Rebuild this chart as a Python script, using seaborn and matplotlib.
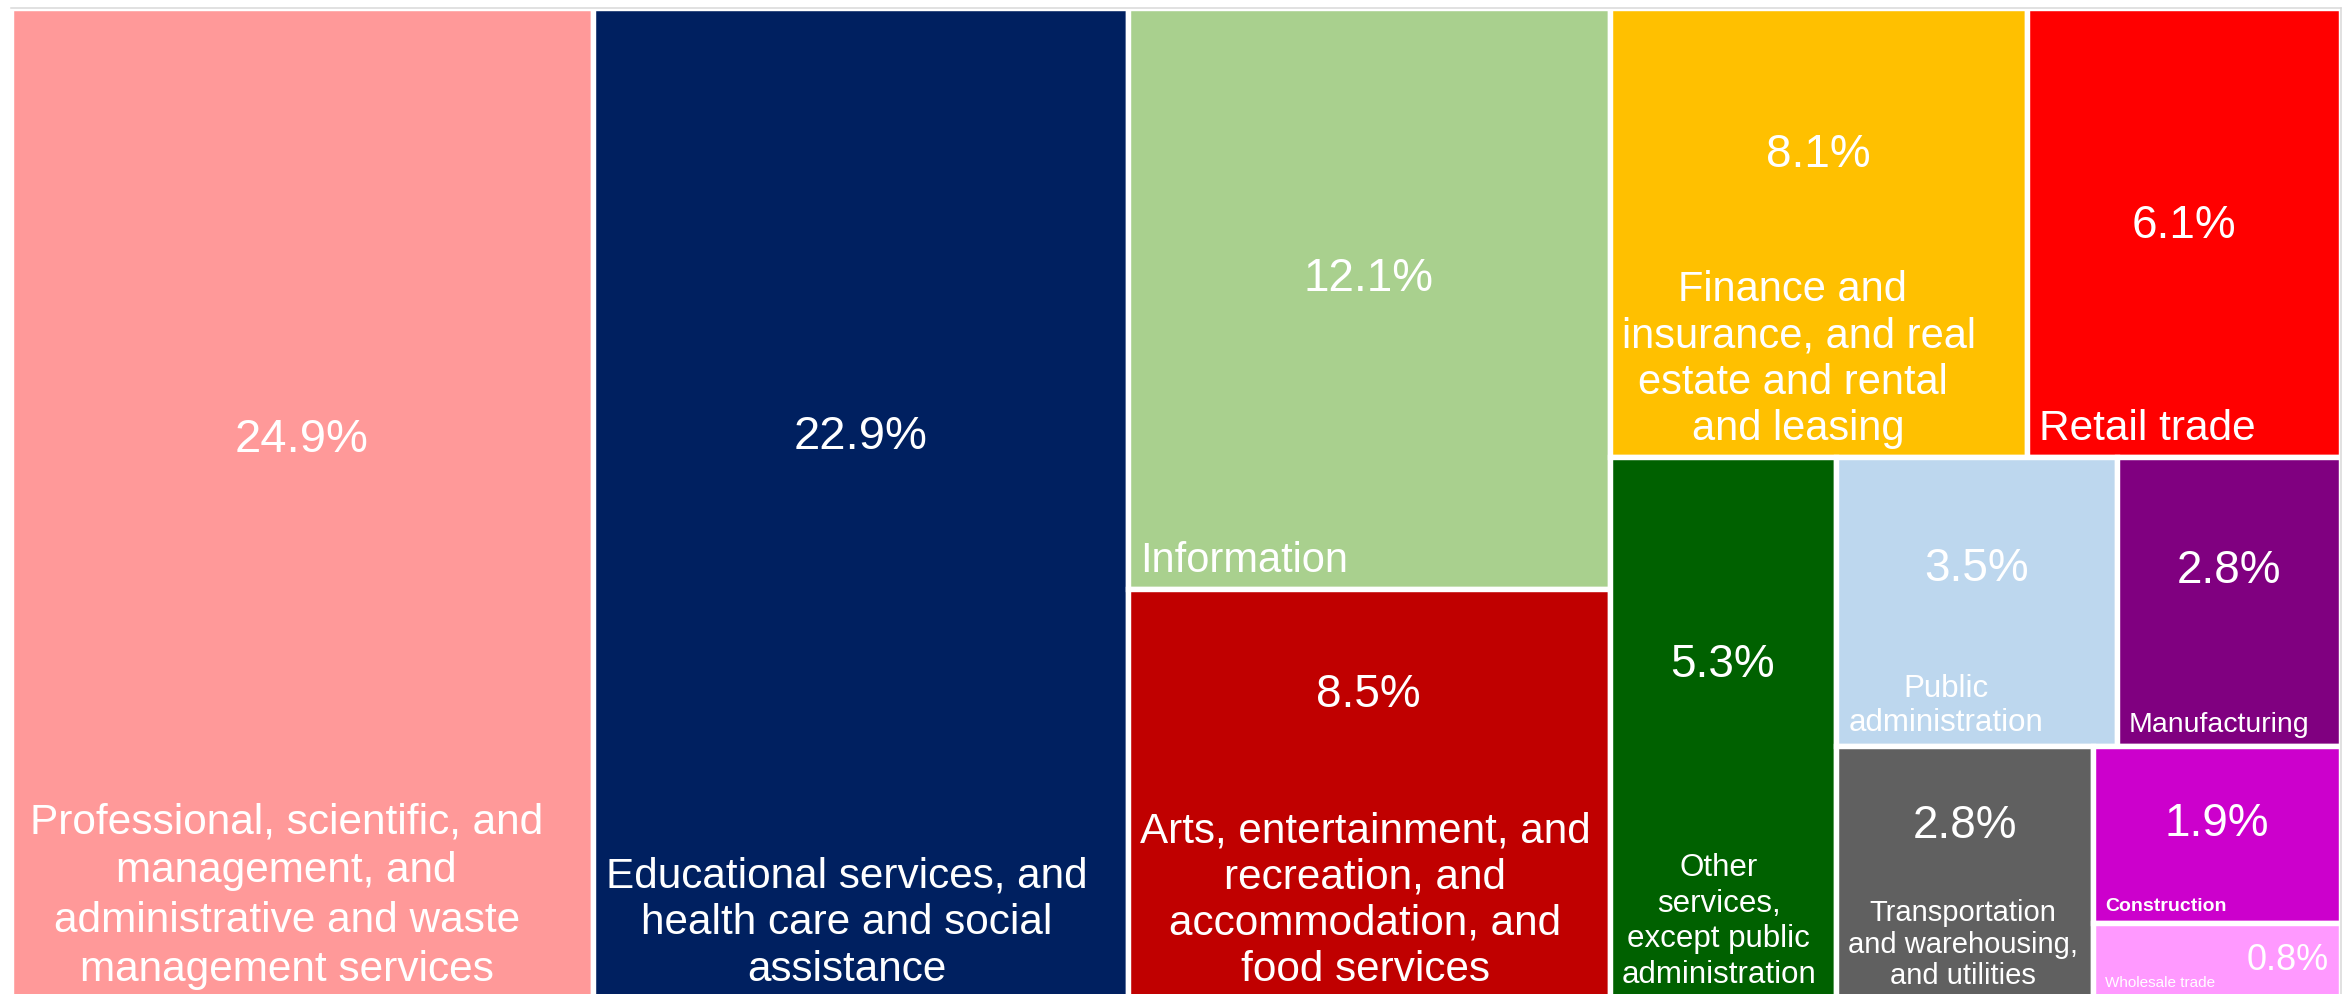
import matplotlib
matplotlib.use("Agg")
import matplotlib.pyplot as plt
import seaborn as sns

# ---------------- data ----------------
categories = [
    "Professional, scientific, and management, and administrative and waste management services",
    "Educational services, and health care and social assistance",
    "Information",
    "Arts, entertainment, and recreation, and accommodation, and food services",
    "Finance and insurance, and real estate and rental and leasing",
    "Retail trade",
    "Other services, except public administration",
    "Public administration",
    "Manufacturing",
    "Transportation and warehousing, and utilities",
    "Construction",
    "Wholesale trade",
]
shares = [24.9, 22.9, 12.1, 8.5, 8.1, 6.1, 5.3, 3.5, 2.8, 2.8, 1.9, 0.8]
wrapped_labels = [
    "Professional, scientific, and\nmanagement, and\nadministrative and waste\nmanagement services",
    "Educational services, and\nhealth care and social\nassistance",
    "Information",
    "Arts, entertainment, and\nrecreation, and\naccommodation, and\nfood services",
    "Finance and \ninsurance, and real\nestate and rental \nand leasing",
    "Retail trade",
    "Other\nservices,\nexcept public\nadministration",
    "Public\nadministration",
    "Manufacturing",
    "Transportation\nand warehousing,\nand utilities",
    "Construction",
    "Wholesale trade",
]
colors = ["#FF9999", "#002060", "#A9D08E", "#C00000", "#FFC000", "#FF0000",
          "#006100", "#BDD7EE", "#800080", "#606060", "#CC00CC", "#FF99FF"]

# ---------------- style ----------------
label_sizes = [30.5, 30.4, 30, 30.4, 30, 30.5, 22.5, 22.5, 20.5, 21, 14, 11]
label_weights = ["normal"] * 10 + ["bold", "normal"]
label_spacing = [1.3, 1.21, 1.2, 1.2, 1.2, 1.2, 1.24, 1.17, 1.2, 1.15, 1.2, 1.2]
label_left_pad = [19, 13, 12, 12, 12, 12, 12, 12, 12, 12, 12, 12]
pct_sizes = [34, 34, 33, 33, 33, 33, 33, 33, 33, 33, 33, 26]
pct_nudge = [31, 0, 0, -10, 12, 13, 6, 0, -16, 0, 0, 0]   # px, downward

# slice-and-dice structure of the treemap (h: side by side, v: stacked)
LAYOUT = ("h", [0, 1, ("v", [2, 3]),
                ("v", [("h", [4, 5]),
                       ("h", [6, ("v", [("h", [7, 8]),
                                        ("h", [9, ("v", [10, 11])])])])])])


def weight(node):
    if isinstance(node, int):
        return shares[node]
    return sum(weight(k) for k in node[1])


def layout(node, x0, y0, x1, y1, out):
    if isinstance(node, int):
        out[node] = (x0, y0, x1, y1)
        return
    d, kids = node
    tot = sum(weight(k) for k in kids)
    pos = x0 if d == "h" else y0
    for k in kids:
        f = weight(k) / tot
        if d == "h":
            w = (x1 - x0) * f
            layout(k, pos, y0, pos + w, y1, out)
            pos += w
        else:
            h = (y1 - y0) * f
            layout(k, x0, pos, x1, pos + h, out)
            pos += h


rects = {}
layout(LAYOUT, 0.0, 0.0, 1.0, 1.0, rects)

sns.set_theme(style="white")
plt.rcParams["font.family"] = ["Liberation Sans", "DejaVu Sans"]

W, H = 2350, 994
fig = plt.figure(figsize=(W / 100, H / 100), dpi=100)
ax = fig.add_axes([11 / W, -4 / H, 2330 / W, (H - 7.5 + 4) / H])
ax.set_xlim(0, 1)
ax.set_ylim(1, 0)
ax.set_xticks([])
ax.set_yticks([])
for s in ["left", "bottom"]:
    ax.spines[s].set_visible(False)
for s in ["top", "right"]:
    ax.spines[s].set_color("#D9D9D9")
    ax.spines[s].set_linewidth(1.1)

for i in range(len(shares)):
    x0, y0, x1, y1 = rects[i]
    ax.bar(x0, y1 - y0, width=x1 - x0, bottom=y0, align="edge",
           color=colors[i], edgecolor="white", linewidth=3.9, zorder=1)

px = 0.72  # points per pixel
labels = []
for i in range(len(shares)):
    x0, y0, x1, y1 = rects[i]
    t = ax.annotate(wrapped_labels[i], xy=(x0, y1),
                    xytext=(label_left_pad[i] * px, 8 * px),
                    textcoords="offset points", ha="left", va="bottom",
                    multialignment="center", color="white",
                    fontsize=label_sizes[i], fontweight=label_weights[i],
                    linespacing=label_spacing[i], zorder=3)
    labels.append(t)

fig.canvas.draw()
r = fig.canvas.get_renderer()
inv = ax.transData.inverted()
for i in range(len(shares)):
    x0, y0, x1, y1 = rects[i]
    txt = f"{shares[i]:.1f}%"
    if i == len(shares) - 1:
        # tiny box: value sits to the right of the label
        ax.annotate(txt, xy=(x1, (y0 + y1) / 2), xytext=(-12 * px, 0),
                    textcoords="offset points", ha="right", va="center",
                    color="white", fontsize=pct_sizes[i], zorder=3)
        continue
    bb = labels[i].get_window_extent(r)
    fs_px = label_sizes[i] / px
    lab_top = bb.y1 - 0.22 * fs_px
    top_disp = ax.transData.transform((x0, y0))[1]
    mid = (lab_top + top_disp) / 2 - pct_nudge[i]
    xc = ax.transData.transform(((x0 + x1) / 2, y0))[0]
    dx, dy = inv.transform((xc, mid))
    ax.text(dx, dy, txt, ha="center", va="center", color="white",
            fontsize=pct_sizes[i], zorder=3)

fig.savefig("out.png", dpi=100)
